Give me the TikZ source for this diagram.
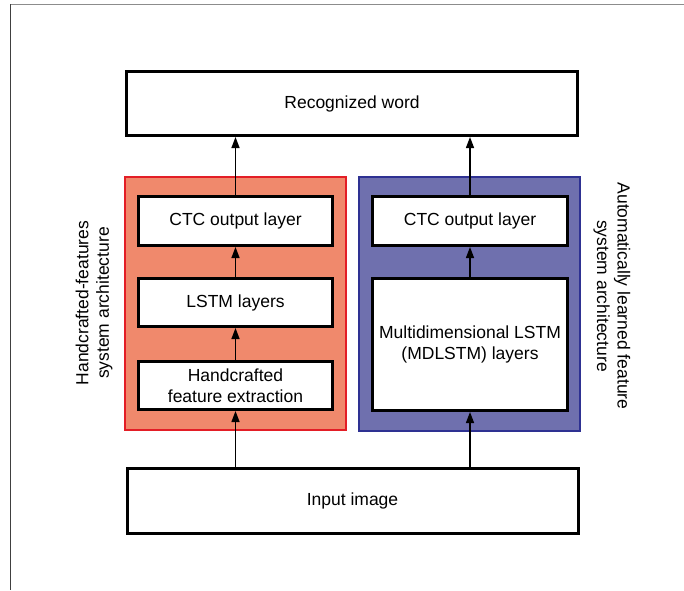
\documentclass[tikz,border=0pt]{standalone}
\usepackage{fontspec}
\setmainfont{Liberation Sans}
\usetikzlibrary{arrows.meta}
\definecolor{salmon}{HTML}{F0896C}
\definecolor{redline}{HTML}{E31E26}
\definecolor{bluefill}{HTML}{6F70AE}
\definecolor{blueline}{HTML}{2E3192}
\tikzset{
  wbox/.style={draw=black, line width=3pt, fill=white, inner sep=0pt, align=center,
    font=\fontsize{17.5}{21}\selectfont},
  arr/.style={line width=1.4pt, -{Triangle[length=11pt,width=8pt]}},
  sidelabel/.style={align=center, inner sep=0pt, font=\fontsize{17.5}{20.5}\selectfont},
  panel/.style={line width=2pt, inner sep=0pt}
}
\begin{document}
\begin{tikzpicture}[x=1pt,y=-1pt]
\useasboundingbox (0,0) rectangle (684,590);
% frame
\draw[draw=black!45, line width=1.5pt] (10,4.5) -- (684,4.5);
\draw[draw=black!75, line width=0.9pt] (10.7,4) -- (10.7,590);
% panels
\node[panel, draw=redline, fill=salmon, minimum width=221pt, minimum height=253pt] (redp) at (235.5,303.5) {};
\node[panel, draw=blueline, fill=bluefill, minimum width=221pt, minimum height=254pt] (bluep) at (469.5,304) {};
% boxes
\node[wbox, minimum width=451pt, minimum height=64pt] (rw) at (352,103.5) {Recognized word};
\node[wbox, minimum width=451pt, minimum height=65pt] (inp) at (352.5,501) {Input image};
\node[wbox, minimum width=194pt, minimum height=49pt] (ctcl) at (235.5,221) {CTC output layer};
\node[wbox, minimum width=194pt, minimum height=48pt] (lstm) at (235.5,302.5) {LSTM layers};
\node[wbox, minimum width=194pt, minimum height=48pt] (hand) at (235.5,385.5) {Handcrafted\\feature extraction};
\node[wbox, minimum width=195pt, minimum height=49pt] (ctcr) at (470,221) {CTC output layer};
\node[wbox, minimum width=195pt, minimum height=132pt] (md) at (470,344.5) {Multidimensional LSTM\\(MDLSTM) layers};
% side labels
\node[sidelabel, rotate=90] (ll) at (94,303) {Handcrafted-features\\system architecture};
\node[sidelabel, rotate=-90] (rl) at (612,296) {Automatically learned feature\\system architecture};
% arrows
\draw[arr] (inp.north -| hand.south) -- (hand.south);
\draw[arr] (hand.north) -- (lstm.south);
\draw[arr] (lstm.north) -- (ctcl.south);
\draw[arr] (ctcl.north) -- (rw.south -| ctcl.north);
\draw[arr] (inp.north -| md.south) -- (md.south);
\draw[arr] (md.north) -- (ctcr.south);
\draw[arr] (ctcr.north) -- (rw.south -| ctcr.north);
\end{tikzpicture}
\end{document}
